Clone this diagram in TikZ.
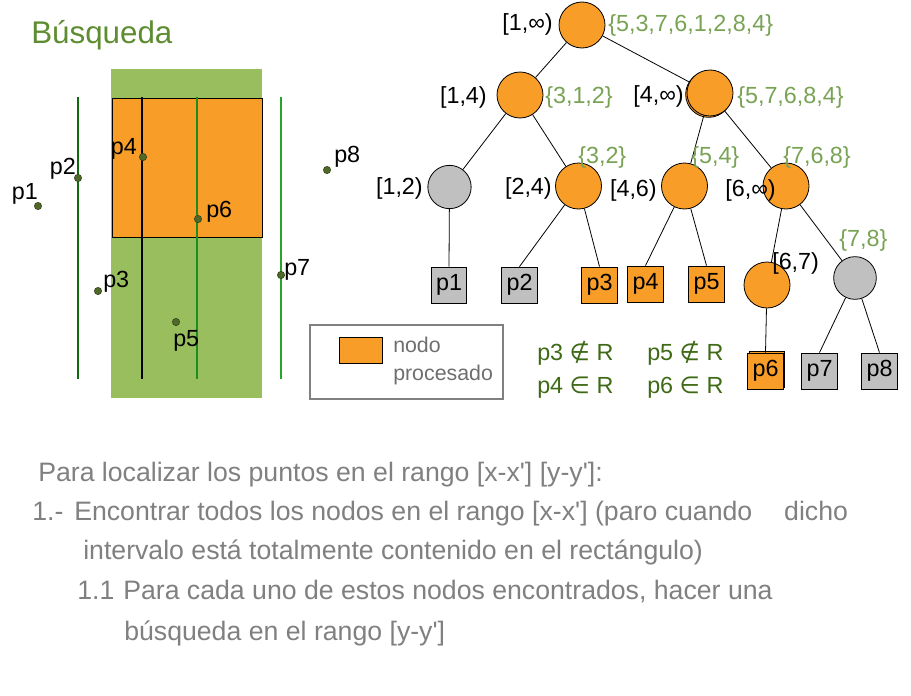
\documentclass[tikz,border=0pt]{standalone}
\usepackage{fontspec}
\setmainfont{Liberation Sans}[Ligatures=TeXOff]
\newfontfamily\simbolos{DejaVu Sans}
\usetikzlibrary{shadows}

\definecolor{naranja}{RGB}{248,157,40}
\definecolor{gris}{RGB}{192,192,192}
\definecolor{verdefondo}{RGB}{152,190,94}
\definecolor{verdeconj}{RGB}{120,162,84}
\definecolor{verdeoscuro}{RGB}{62,106,22}
\definecolor{verdetitulo}{RGB}{94,140,48}
\definecolor{verdepunto}{RGB}{80,105,40}
\definecolor{textogris}{RGB}{128,128,128}
\definecolor{leyendagris}{RGB}{110,110,110}
\definecolor{lineaA}{RGB}{15,105,15}
\definecolor{lineaB}{RGB}{30,140,30}
\definecolor{lineaC}{RGB}{40,165,40}

\begin{document}
\begin{tikzpicture}[x=0.75pt, y=-0.75pt,
    every node/.style={font=\fontsize{17.5}{20}\selectfont},
    nodo/.style={circle, draw, line width=0.6pt, fill=naranja, minimum size=34.5pt, inner sep=0pt},
    hoja/.style={draw, line width=0.6pt, fill=gris, minimum width=26.5pt, minimum height=27pt, inner sep=0pt},
    rango/.style={inner sep=0pt, anchor=east},
    conj/.style={inner sep=0pt, anchor=west, text=verdeconj},
    punto/.style={circle, draw=verdepunto!60!black, fill=verdepunto, minimum size=5.5pt, inner sep=0pt},
    etiq/.style={inner sep=0pt},
    perte/.style={inner sep=0pt, anchor=west, text=verdeoscuro},
    texto/.style={anchor=base west, inner sep=0pt, text=textogris, font=\fontsize{20}{24}\selectfont}
  ]
    \useasboundingbox (0,0) rectangle (911,696);

    % Title
    \node[anchor=base west, inner sep=0pt, text=verdetitulo, font=\fontsize{23.5}{28}\selectfont] (titulo) at (31,43) {Búsqueda};

    % Draw the query region and the processed part
    \fill[verdefondo] (111,69) rectangle (262,398);
    \draw[fill=naranja, line width=0.6pt] (112,98) rectangle (262,237);

    % Draw the splitting lines
    \draw[lineaA, line width=2pt] (78,97) -- (78,379);
    \draw[black, line width=2pt] (142,97) -- (142,379);
    \draw[lineaB, line width=2pt] (197,97) -- (197,379);
    \draw[lineaC, line width=2pt] (281,97) -- (281,379);

    % Draw the points
    \node[punto] (q1) at (38,206) {};
    \node[punto] (q2) at (78,178) {};
    \node[punto] (q3) at (98,291) {};
    \node[punto] (q4) at (143,157) {};
    \node[punto] (q5) at (176,322) {};
    \node[punto] (q6) at (198,219) {};
    \node[punto] (q7) at (281,275) {};
    \node[punto] (q8) at (327,170) {};
    \node[etiq, anchor=east] (e1) at (38,194) {p1};
    \node[etiq, anchor=east] (e2) at (76,169) {p2};
    \node[etiq, anchor=west] (e3) at (103,282) {p3};
    \node[etiq, anchor=east] (e4) at (137,149) {p4};
    \node[etiq, anchor=west] (e5) at (173,341) {p5};
    \node[etiq, anchor=west] (e6) at (206,212) {p6};
    \node[etiq, anchor=west] (e7) at (284,270) {p7};
    \node[etiq, anchor=west] (e8) at (334,157) {p8};

    % Draw the range tree
    \node[nodo] (raiz) at (582,25) {};
    \node[nodo] (n14) at (520,95) {};
    \node[nodo, copy shadow={shadow xshift=-1pt, shadow yshift=-1pt}] (n4i) at (710,93) {};
    \node[nodo, fill=gris, minimum size=32.5pt] (n12) at (449.5,187) {};
    \node[nodo] (n24) at (578.5,186) {};
    \node[nodo] (n46) at (684.5,186) {};
    \node[nodo] (n6i) at (786,186) {};
    \node[nodo] (n67) at (767,285) {};
    \node[nodo, fill=gris, minimum size=32pt] (n78) at (855,278) {};

    % leaves
    \node[hoja] (h1) at (449,285) {p1};
    \node[hoja] (h2) at (519.5,285) {p2};
    \node[hoja, fill=naranja] (h3) at (599.5,285) {p3};
    \node[hoja, fill=naranja] (h4) at (645.5,284) {p4};
    \node[hoja, fill=naranja] (h5) at (706.5,284) {p5};
    \node[hoja, fill=naranja, copy shadow={shadow xshift=1.2pt, shadow yshift=1.2pt}] (h6) at (765.5,371) {\raisebox{-3pt}{p6}};
    \node[hoja] (h7) at (819.5,371) {p7};
    \node[hoja] (h8) at (879.5,371) {p8};

    % edges
    \draw[line width=0.6pt] (raiz) -- (n14);
    \draw[line width=0.6pt] (raiz) -- (n4i);
    \draw[line width=0.6pt] (n14) -- (n12);
    \draw[line width=0.6pt] (n14) -- (n24);
    \draw[line width=0.6pt] (n4i) -- (n46);
    \draw[line width=0.6pt] (n4i) -- (n6i);
    \draw[line width=0.6pt] (n12) -- (h1.north);
    \draw[line width=0.6pt] (n24) -- (h2.north);
    \draw[line width=0.6pt] (n24) -- (h3.north);
    \draw[line width=0.6pt] (n46) -- (h4.north);
    \draw[line width=0.6pt] (n46) -- (h5.north);
    \draw[line width=0.6pt] (n6i) -- (n67);
    \draw[line width=0.6pt] (n6i) -- (n78);
    \draw[line width=0.6pt] (n67) -- (h6.north);
    \draw[line width=0.6pt] (n78) -- (h7.north);
    \draw[line width=0.6pt] (n78) -- (h8.north);

    % ranges and sets
    \node[rango] (r1i) at (553,24) {[1,∞)};
    \node[rango] (r14) at (487,97) {[1,4)};
    \node[rango] (r4i) at (684,96) {[4,∞)};
    \node[rango] (r12) at (423,188) {[1,2)};
    \node[rango] (r24) at (552,188) {[2,4)};
    \node[rango] (r46) at (657,190) {[4,6)};
    \node[rango] (r6i) at (776,190) {[6,∞)};
    \node[rango, anchor=west] (r67) at (772,263) {[6,7)};
    \node[conj] (c1) at (608,25) {\{5,3,7,6,1,2,8,4\}};
    \node[conj] (c2) at (545,97) {\{3,1,2\}};
    \node[conj] (c3) at (737,97) {\{5,7,6,8,4\}};
    \node[conj] (c4) at (578,157) {\{3,2\}};
    \node[conj] (c5) at (691,157) {\{5,4\}};
    \node[conj] (c6) at (783,157) {\{7,6,8\}};
    \node[conj] (c7) at (839,240) {\{7,8\}};

    % legend
    \draw[textogris, line width=2pt] (310,325) rectangle (503,399);
    \draw[fill=naranja, line width=0.6pt] (339,337) rectangle (382,363);
    \node[anchor=west, inner sep=0pt, text=leyendagris, font=\fontsize{16}{19}\selectfont] (ley1) at (393,345) {nodo};
    \node[anchor=west, inner sep=0pt, text=leyendagris, font=\fontsize{16}{19}\selectfont] (ley2) at (393,375) {procesado};

    % membership
    \node[perte] (m3) at (537,353) {p3 {\simbolos ∉} R};
    \node[perte] (m5) at (647,353) {p5 {\simbolos ∉} R};
    \node[perte] (m4) at (537,388) {p4 {\simbolos ∈} R};
    \node[perte] (m6) at (647,388) {p6 {\simbolos ∈} R};

    % explanation
    \node[texto] (t1) at (38,481) {Para localizar los puntos en el rango [x-x'] [y-y']:};
    \node[texto] (t2a) at (32,520) {1.-};
    \node[texto] (t2b) at (74,520) {Encontrar todos los nodos en el rango [x-x'] (paro cuando\hspace{24pt}dicho};
    \node[texto] (t3) at (83,559) {intervalo está totalmente contenido en el rectángulo)};
    \node[texto] (t4a) at (77,599) {1.1};
    \node[texto] (t4b) at (123,599) {Para cada uno de estos nodos encontrados, hacer una};
    \node[texto] (t5) at (124,640) {búsqueda en el rango [y-y']};
\end{tikzpicture}
\end{document}
